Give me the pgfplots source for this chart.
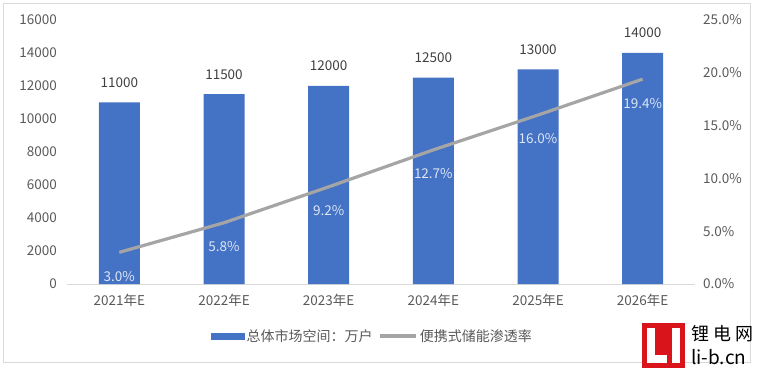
\documentclass[border=0pt]{standalone}
\usepackage{pgfplots}
\pgfplotsset{compat=1.18}
\usepackage{fontspec}
\setmainfont{Noto Sans CJK SC}
\definecolor{barblue}{HTML}{4472C4}
\definecolor{linegray}{HTML}{A5A5A5}
\definecolor{ticktext}{HTML}{595959}
\definecolor{valtext}{HTML}{404040}
\definecolor{axisgray}{HTML}{D9D9D9}
\definecolor{lbltext}{HTML}{DDE6F5}
\definecolor{wmred}{HTML}{D9141B}
\pgfplotsset{
  /pgf/number format/1000 sep={},
  /pgf/number format/assume math mode=true,
}
\begin{document}
\begin{tikzpicture}[x=1pt,y=1pt]
\path[use as bounding box] (0,0) rectangle (757,370);
\draw[color=axisgray, line width=0.8pt] (3.5,7.5) rectangle (750.5,366.5);
\begin{axis}[
  at={(67pt,86pt)}, anchor=south west, scale only axis,
  width=628pt, height=264pt,
  xmin=-0.5, xmax=5.5, ymin=0, ymax=16000,
  scaled y ticks=false,
  xtick={0,1,2,3,4,5},
  xticklabels={2021年E,2022年E,2023年E,2024年E,2025年E,2026年E},
  ytick={0,2000,...,16000},
  yticklabel={\pgfmathprintnumber[fixed,precision=0]{\tick}},
  axis x line*=bottom, axis y line*=left,
  x axis line style={draw=axisgray, line width=0.8pt, -},
  y axis line style={draw=none},
  major tick length=0pt,
  tick label style={font=\fontsize{13.5}{15}\selectfont, text=ticktext, inner sep=0pt},
  yticklabel style={anchor=east, xshift=-10pt},
  xticklabel style={anchor=center, yshift=-16pt},
  ybar, bar width=41pt,
  nodes near coords,
  nodes near coords style={font=\fontsize{13.5}{15}\selectfont, text=valtext, anchor=center, yshift=20pt, inner sep=0pt},
  clip=false,
]
\addplot[fill=barblue, draw=none] coordinates {(0,11000) (1,11500) (2,12000) (3,12500) (4,13000) (5,14000)};
\end{axis}
\begin{axis}[
  at={(67pt,86pt)}, anchor=south west, scale only axis,
  width=628pt, height=264pt,
  xmin=-0.5, xmax=5.5, ymin=0, ymax=25,
  axis x line=none, axis y line*=right,
  y axis line style={draw=none},
  ytick={0,5,...,25},
  yticklabel={\pgfmathprintnumber[fixed,fixed zerofill,precision=1]{\tick}\%},
  major tick length=0pt,
  tick label style={font=\fontsize{13.5}{15}\selectfont, text=ticktext, inner sep=0pt},
  yticklabel style={anchor=west, xshift=8pt},
  clip=false,
  legend columns=2,
  legend style={at={(0.4865,-0.197)}, anchor=center, draw=none, fill=none,
    font=\fontsize{14}{16}\selectfont, text=ticktext,
    /tikz/every even column/.append style={column sep=4pt},
    inner sep=0pt},
]
\addlegendimage{legend image code/.code={\fill[barblue] (0pt,-2.8pt) rectangle (33pt,2.8pt);}}
\addlegendentry{总体市场空间：万户}
\addplot[linegray, line width=3.2pt, no marks,
  nodes near coords={\pgfmathprintnumber[fixed,fixed zerofill,precision=1]{\pgfplotspointmeta}\%},
  nodes near coords style={font=\fontsize{13.5}{15}\selectfont, text=lbltext, anchor=center, yshift=-24pt, inner sep=0pt},
  legend image code/.code={\draw[linegray, line width=3.2pt] (0pt,0pt) -- (36pt,0pt);}]
  coordinates {(0,3.0) (1,5.8) (2,9.2) (3,12.7) (4,16.0) (5,19.4)};
\addlegendentry{便携式储能渗透率}
\end{axis}
% watermark
\fill[wmred] (642,2) rectangle (685,47);
\fill[white] (647,7) rectangle (655,42);
\fill[white] (647,7) rectangle (667,15);
\fill[white] (672,7) rectangle (680,42);
\node[anchor=west, inner sep=0pt, font=\fontsize{18}{20}\selectfont] at (691,36) {锂\hspace{4pt}电\hspace{4pt}网};
\node[anchor=west, inner sep=0pt, font=\fontsize{19}{20}\selectfont] at (691,13) {li-b.cn};
\end{tikzpicture}
\end{document}
